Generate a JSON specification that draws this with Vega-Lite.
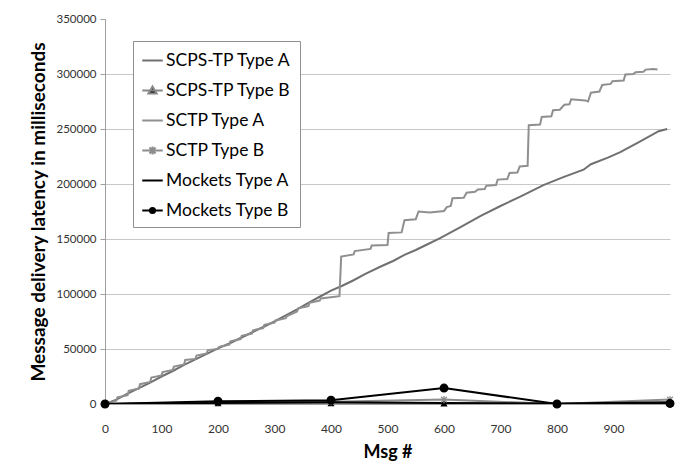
{
  "$schema": "https://vega.github.io/schema/vega-lite/v6.json",
  "autosize": "none",
  "width": 565,
  "height": 385,
  "padding": {"left": 105, "top": 19, "right": 16, "bottom": 64},
  "background": "white",
  "config": {
    "view": {"stroke": null},
    "font": "Lato",
    "axis": {"labelFont": "Lato", "titleFont": "Lato"}
  },
  "datasets": {
    "d": [
      {"series": "SCPS-TP Type A", "msg": 0, "latency": 0},
      {"series": "SCPS-TP Type A", "msg": 20, "latency": 4000},
      {"series": "SCPS-TP Type A", "msg": 40, "latency": 9500},
      {"series": "SCPS-TP Type A", "msg": 60, "latency": 14500},
      {"series": "SCPS-TP Type A", "msg": 80, "latency": 19500},
      {"series": "SCPS-TP Type A", "msg": 100, "latency": 25000},
      {"series": "SCPS-TP Type A", "msg": 120, "latency": 30000},
      {"series": "SCPS-TP Type A", "msg": 140, "latency": 35500},
      {"series": "SCPS-TP Type A", "msg": 160, "latency": 40500},
      {"series": "SCPS-TP Type A", "msg": 180, "latency": 45500},
      {"series": "SCPS-TP Type A", "msg": 200, "latency": 50500},
      {"series": "SCPS-TP Type A", "msg": 220, "latency": 55000},
      {"series": "SCPS-TP Type A", "msg": 240, "latency": 60000},
      {"series": "SCPS-TP Type A", "msg": 260, "latency": 65000},
      {"series": "SCPS-TP Type A", "msg": 280, "latency": 70000},
      {"series": "SCPS-TP Type A", "msg": 300, "latency": 75000},
      {"series": "SCPS-TP Type A", "msg": 320, "latency": 80500},
      {"series": "SCPS-TP Type A", "msg": 340, "latency": 86000},
      {"series": "SCPS-TP Type A", "msg": 360, "latency": 92000},
      {"series": "SCPS-TP Type A", "msg": 380, "latency": 97500},
      {"series": "SCPS-TP Type A", "msg": 400, "latency": 103000},
      {"series": "SCPS-TP Type A", "msg": 420, "latency": 107500},
      {"series": "SCPS-TP Type A", "msg": 440, "latency": 112500},
      {"series": "SCPS-TP Type A", "msg": 460, "latency": 118000},
      {"series": "SCPS-TP Type A", "msg": 488, "latency": 125000},
      {"series": "SCPS-TP Type A", "msg": 510, "latency": 130000},
      {"series": "SCPS-TP Type A", "msg": 530, "latency": 135500},
      {"series": "SCPS-TP Type A", "msg": 550, "latency": 140000},
      {"series": "SCPS-TP Type A", "msg": 570, "latency": 145000},
      {"series": "SCPS-TP Type A", "msg": 594, "latency": 151000},
      {"series": "SCPS-TP Type A", "msg": 630, "latency": 161000},
      {"series": "SCPS-TP Type A", "msg": 665, "latency": 171000},
      {"series": "SCPS-TP Type A", "msg": 700, "latency": 180000},
      {"series": "SCPS-TP Type A", "msg": 735, "latency": 188500},
      {"series": "SCPS-TP Type A", "msg": 776, "latency": 199000},
      {"series": "SCPS-TP Type A", "msg": 810, "latency": 206000},
      {"series": "SCPS-TP Type A", "msg": 847, "latency": 213000},
      {"series": "SCPS-TP Type A", "msg": 860, "latency": 218000},
      {"series": "SCPS-TP Type A", "msg": 890, "latency": 224000},
      {"series": "SCPS-TP Type A", "msg": 912, "latency": 229000},
      {"series": "SCPS-TP Type A", "msg": 945, "latency": 238000},
      {"series": "SCPS-TP Type A", "msg": 980, "latency": 248000},
      {"series": "SCPS-TP Type A", "msg": 995, "latency": 250000},

      {"series": "SCTP Type A", "msg": 0, "latency": 0},
      {"series": "SCTP Type A", "msg": 20, "latency": 3000},
      {"series": "SCTP Type A", "msg": 22, "latency": 6000},
      {"series": "SCTP Type A", "msg": 40, "latency": 8000},
      {"series": "SCTP Type A", "msg": 42, "latency": 12000},
      {"series": "SCTP Type A", "msg": 60, "latency": 14000},
      {"series": "SCTP Type A", "msg": 62, "latency": 18000},
      {"series": "SCTP Type A", "msg": 80, "latency": 20000},
      {"series": "SCTP Type A", "msg": 82, "latency": 24000},
      {"series": "SCTP Type A", "msg": 100, "latency": 26000},
      {"series": "SCTP Type A", "msg": 102, "latency": 29000},
      {"series": "SCTP Type A", "msg": 120, "latency": 31000},
      {"series": "SCTP Type A", "msg": 122, "latency": 34000},
      {"series": "SCTP Type A", "msg": 140, "latency": 36000},
      {"series": "SCTP Type A", "msg": 142, "latency": 40000},
      {"series": "SCTP Type A", "msg": 160, "latency": 41000},
      {"series": "SCTP Type A", "msg": 162, "latency": 44000},
      {"series": "SCTP Type A", "msg": 180, "latency": 46000},
      {"series": "SCTP Type A", "msg": 182, "latency": 49000},
      {"series": "SCTP Type A", "msg": 200, "latency": 50000},
      {"series": "SCTP Type A", "msg": 202, "latency": 52000},
      {"series": "SCTP Type A", "msg": 220, "latency": 54000},
      {"series": "SCTP Type A", "msg": 222, "latency": 57000},
      {"series": "SCTP Type A", "msg": 240, "latency": 59000},
      {"series": "SCTP Type A", "msg": 242, "latency": 62000},
      {"series": "SCTP Type A", "msg": 260, "latency": 64000},
      {"series": "SCTP Type A", "msg": 262, "latency": 67000},
      {"series": "SCTP Type A", "msg": 280, "latency": 69000},
      {"series": "SCTP Type A", "msg": 282, "latency": 72000},
      {"series": "SCTP Type A", "msg": 300, "latency": 74000},
      {"series": "SCTP Type A", "msg": 302, "latency": 76000},
      {"series": "SCTP Type A", "msg": 320, "latency": 78000},
      {"series": "SCTP Type A", "msg": 322, "latency": 80000},
      {"series": "SCTP Type A", "msg": 340, "latency": 84000},
      {"series": "SCTP Type A", "msg": 342, "latency": 87000},
      {"series": "SCTP Type A", "msg": 360, "latency": 89000},
      {"series": "SCTP Type A", "msg": 362, "latency": 92000},
      {"series": "SCTP Type A", "msg": 380, "latency": 94000},
      {"series": "SCTP Type A", "msg": 382, "latency": 96000},
      {"series": "SCTP Type A", "msg": 415, "latency": 98000},
      {"series": "SCTP Type A", "msg": 418, "latency": 134000},
      {"series": "SCTP Type A", "msg": 440, "latency": 136000},
      {"series": "SCTP Type A", "msg": 442, "latency": 139000},
      {"series": "SCTP Type A", "msg": 470, "latency": 141000},
      {"series": "SCTP Type A", "msg": 472, "latency": 144000},
      {"series": "SCTP Type A", "msg": 500, "latency": 144500},
      {"series": "SCTP Type A", "msg": 502, "latency": 155500},
      {"series": "SCTP Type A", "msg": 525, "latency": 156000},
      {"series": "SCTP Type A", "msg": 530, "latency": 167000},
      {"series": "SCTP Type A", "msg": 550, "latency": 168000},
      {"series": "SCTP Type A", "msg": 555, "latency": 175000},
      {"series": "SCTP Type A", "msg": 575, "latency": 174000},
      {"series": "SCTP Type A", "msg": 600, "latency": 175500},
      {"series": "SCTP Type A", "msg": 605, "latency": 179000},
      {"series": "SCTP Type A", "msg": 612, "latency": 180000},
      {"series": "SCTP Type A", "msg": 615, "latency": 187000},
      {"series": "SCTP Type A", "msg": 635, "latency": 187500},
      {"series": "SCTP Type A", "msg": 640, "latency": 192000},
      {"series": "SCTP Type A", "msg": 655, "latency": 193000},
      {"series": "SCTP Type A", "msg": 660, "latency": 195000},
      {"series": "SCTP Type A", "msg": 672, "latency": 195500},
      {"series": "SCTP Type A", "msg": 675, "latency": 198500},
      {"series": "SCTP Type A", "msg": 692, "latency": 199000},
      {"series": "SCTP Type A", "msg": 695, "latency": 204000},
      {"series": "SCTP Type A", "msg": 712, "latency": 204500},
      {"series": "SCTP Type A", "msg": 716, "latency": 210000},
      {"series": "SCTP Type A", "msg": 730, "latency": 210500},
      {"series": "SCTP Type A", "msg": 734, "latency": 216000},
      {"series": "SCTP Type A", "msg": 748, "latency": 216500},
      {"series": "SCTP Type A", "msg": 750, "latency": 253500},
      {"series": "SCTP Type A", "msg": 770, "latency": 254000},
      {"series": "SCTP Type A", "msg": 773, "latency": 261000},
      {"series": "SCTP Type A", "msg": 790, "latency": 261500},
      {"series": "SCTP Type A", "msg": 793, "latency": 267000},
      {"series": "SCTP Type A", "msg": 805, "latency": 267500},
      {"series": "SCTP Type A", "msg": 813, "latency": 272000},
      {"series": "SCTP Type A", "msg": 822, "latency": 272500},
      {"series": "SCTP Type A", "msg": 825, "latency": 277000},
      {"series": "SCTP Type A", "msg": 850, "latency": 276000},
      {"series": "SCTP Type A", "msg": 855, "latency": 275000},
      {"series": "SCTP Type A", "msg": 860, "latency": 283000},
      {"series": "SCTP Type A", "msg": 875, "latency": 284000},
      {"series": "SCTP Type A", "msg": 880, "latency": 290000},
      {"series": "SCTP Type A", "msg": 895, "latency": 291000},
      {"series": "SCTP Type A", "msg": 898, "latency": 293500},
      {"series": "SCTP Type A", "msg": 918, "latency": 294000},
      {"series": "SCTP Type A", "msg": 921, "latency": 299500},
      {"series": "SCTP Type A", "msg": 935, "latency": 300000},
      {"series": "SCTP Type A", "msg": 939, "latency": 301500},
      {"series": "SCTP Type A", "msg": 953, "latency": 302000},
      {"series": "SCTP Type A", "msg": 957, "latency": 304000},
      {"series": "SCTP Type A", "msg": 970, "latency": 304500},
      {"series": "SCTP Type A", "msg": 978, "latency": 304000},

      {"series": "SCPS-TP Type B", "msg": 0, "latency": 0},
      {"series": "SCPS-TP Type B", "msg": 200, "latency": 500},
      {"series": "SCPS-TP Type B", "msg": 400, "latency": 500},
      {"series": "SCPS-TP Type B", "msg": 600, "latency": 300},
      {"series": "SCPS-TP Type B", "msg": 800, "latency": 0},
      {"series": "SCPS-TP Type B", "msg": 1000, "latency": 500},

      {"series": "SCTP Type B", "msg": 0, "latency": 0},
      {"series": "SCTP Type B", "msg": 200, "latency": 1500},
      {"series": "SCTP Type B", "msg": 400, "latency": 2000},
      {"series": "SCTP Type B", "msg": 600, "latency": 4000},
      {"series": "SCTP Type B", "msg": 800, "latency": 0},
      {"series": "SCTP Type B", "msg": 1000, "latency": 4000},

      {"series": "Mockets Type A", "msg": 0, "latency": 0},
      {"series": "Mockets Type A", "msg": 200, "latency": 1000},
      {"series": "Mockets Type A", "msg": 400, "latency": 1500},
      {"series": "Mockets Type A", "msg": 600, "latency": 1000},
      {"series": "Mockets Type A", "msg": 800, "latency": 500},
      {"series": "Mockets Type A", "msg": 1000, "latency": 1500},

      {"series": "Mockets Type B", "msg": 0, "latency": 0},
      {"series": "Mockets Type B", "msg": 200, "latency": 2500},
      {"series": "Mockets Type B", "msg": 400, "latency": 3500},
      {"series": "Mockets Type B", "msg": 600, "latency": 14500},
      {"series": "Mockets Type B", "msg": 800, "latency": 0},
      {"series": "Mockets Type B", "msg": 1000, "latency": 500}
    ]
  },
  "data": {"name": "d"},
  "encoding": {
    "x": {
      "field": "msg", "type": "quantitative",
      "scale": {"domain": [0, 1000], "nice": false, "zero": false},
      "axis": {
        "title": "Msg #",
        "values": [0, 100, 200, 300, 400, 500, 600, 700, 800, 900],
        "grid": false, "ticks": false,
        "domainColor": "#a0a0a0",
        "labelFontSize": 12, "labelColor": "#333333", "labelPadding": 19,
        "labelFlush": false,
        "titleFontSize": 18, "titleFontWeight": "bold", "titleColor": "#000000",
        "titlePadding": 9
      }
    },
    "y": {
      "field": "latency", "type": "quantitative",
      "scale": {"domain": [0, 350000], "nice": false},
      "axis": {
        "title": "Message delivery latency in milliseconds",
        "values": [0, 50000, 100000, 150000, 200000, 250000, 300000, 350000],
        "format": "d",
        "gridColor": "#c8c8c8",
        "gridOpacity": {"condition": {"test": "datum.value === 350000", "value": 0}, "value": 1},
        "domainColor": "#a0a0a0", "tickColor": "#a0a0a0", "tickSize": 5,
        "labelFontSize": 11.5, "labelColor": "#333333", "labelPadding": 4,
        "titleFontSize": 19, "titleFontWeight": "bold", "titleColor": "#000000",
        "titlePadding": 7
      }
    }
  },
  "layer": [
    {
      "mark": {"type": "line", "clip": true},
      "encoding": {
        "detail": {"field": "series"},
        "order": {"field": "msg", "type": "quantitative"},
        "color": {
          "field": "series", "type": "nominal",
          "scale": {
            "domain": ["SCPS-TP Type A", "SCPS-TP Type B", "SCTP Type A", "SCTP Type B", "Mockets Type A", "Mockets Type B"],
            "range": ["#707070", "#888888", "#8f8f8f", "#8c8c8c", "#000000", "#000000"]
          },
          "legend": {
            "title": null,
            "orient": "none", "legendX": 28, "legendY": 22,
            "fillColor": "white", "strokeColor": "#909090",
            "padding": 8,
            "labelFont": "Lato", "labelFontSize": 17.5, "labelColor": "#000000",
            "labelOffset": 2,
            "rowPadding": 10,
            "symbolSize": 420,
            "symbolStrokeWidth": 1.5,
            "encode": {
              "symbols": {
                "update": {
                  "shape": {"signal": "datum.value === 'SCPS-TP Type B' ? 'M-1,0H1M-0.4,0.3L0,-0.4L0.4,0.3Z' : datum.value === 'SCTP Type B' ? 'M-1,0H1M-0.3,-0.3L0.3,0.3M-0.3,0.3L0.3,-0.3M0,-0.38V0.38' : datum.value === 'Mockets Type B' ? 'M-1,0H1M0.25,0A0.25,0.25,0,1,1,-0.25,0A0.25,0.25,0,1,1,0.25,0Z' : 'M-1,0H1'"},
                  "fill": {"signal": "datum.value === 'SCPS-TP Type B' || datum.value === 'Mockets Type B' ? '#000000' : 'transparent'"},
                  "stroke": {"signal": "datum.value === 'SCPS-TP Type A' ? '#707070' : datum.value === 'SCPS-TP Type B' ? '#888888' : datum.value === 'SCTP Type A' ? '#8f8f8f' : datum.value === 'SCTP Type B' ? '#8c8c8c' : '#000000'"},
                  "strokeWidth": {"signal": "datum.value === 'SCTP Type A' ? 2.5 : datum.value === 'Mockets Type A' ? 2 : 1.5"},
                  "opacity": {"value": 1}
                }
              }
            }
          }
        },
        "strokeWidth": {
          "field": "series", "type": "nominal",
          "scale": {
            "domain": ["SCPS-TP Type A", "SCPS-TP Type B", "SCTP Type A", "SCTP Type B", "Mockets Type A", "Mockets Type B"],
            "range": [2, 2, 2.5, 3, 3, 1.2]
          },
          "legend": null
        }
      }
    },
    {
      "transform": [{"filter": "indexof(['SCPS-TP Type B','SCTP Type B','Mockets Type B'], datum.series) >= 0"}],
      "mark": {"type": "point", "filled": true, "opacity": 1, "strokeWidth": 1.2},
      "encoding": {
        "shape": {
          "field": "series", "type": "nominal",
          "scale": {
            "domain": ["SCPS-TP Type B", "SCTP Type B", "Mockets Type B"],
            "range": ["M-0.8,0.7L0,-0.8L0.8,0.7Z", "M-0.8,-0.8L0.8,0.8M-0.8,0.8L0.8,-0.8M0,-1V1", "circle"]
          },
          "legend": null
        },
        "fill": {
          "field": "series", "type": "nominal",
          "scale": {
            "domain": ["SCPS-TP Type B", "SCTP Type B", "Mockets Type B"],
            "range": ["#000000", "transparent", "#000000"]
          },
          "legend": null
        },
        "stroke": {
          "field": "series", "type": "nominal",
          "scale": {
            "domain": ["SCPS-TP Type B", "SCTP Type B", "Mockets Type B"],
            "range": ["#000000", "#8c8c8c", "#000000"]
          },
          "legend": null
        },
        "size": {
          "field": "series", "type": "nominal",
          "scale": {
            "domain": ["SCPS-TP Type B", "SCTP Type B", "Mockets Type B"],
            "range": [40, 60, 60]
          },
          "legend": null
        }
      }
    }
  ]
}
